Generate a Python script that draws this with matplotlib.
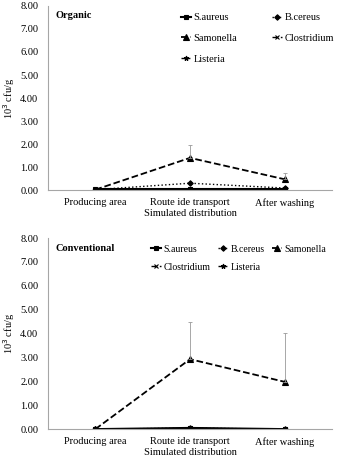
import numpy as np
import matplotlib
matplotlib.use("Agg")
import matplotlib.pyplot as plt

plt.rcParams['font.family'] = ['Liberation Serif', 'DejaVu Serif']

stages = ["Producing area", "Route ide transport\nSimulated distribution", "After washing"]
species = ["S.aureus", "B.cereus", "Samonella", "Clostridium", "Listeria"]

# Organic (10^3 cfu/g)
org_saureus = [0.03, 0.03, 0.03]
org_bcereus = [0.02, 0.30, 0.09]
org_samonella = [0.02, 1.40, 0.47]
org_clostridium = [0.02, 0.05, 0.05]
org_listeria = [0.01, 0.02, 0.02]
org_samonella_err = [0.0, 0.57, 0.27]

# Conventional (10^3 cfu/g)
con_saureus = [0.0, 0.05, 0.0]
con_bcereus = [0.0, 0.04, 0.0]
con_samonella = [0.0, 2.93, 1.98]
con_clostridium = [0.0, 0.03, 0.0]
con_listeria = [0.0, 0.02, 0.0]
con_samonella_err = [0.0, 1.55, 2.04]

styles = {
    "S.aureus": dict(ls='-', marker='s', lw=1.5, ms=3.2),
    "B.cereus": dict(ls=':', marker='D', lw=1.0, ms=2.8),
    "Samonella": dict(ls='--', marker='^', lw=1.3, ms=3.8),
    "Clostridium": dict(ls=(0, (4, 2)), marker='x', lw=1.0, ms=3.0),
    "Listeria": dict(ls='-.', marker='*', lw=1.0, ms=3.5),
}

fig = plt.figure(figsize=(3.43, 4.57), dpi=100)
ax1 = fig.add_axes([0.140, 0.584, 0.828, 0.403])
ax2 = fig.add_axes([0.140, 0.061, 0.828, 0.418])

# legend order so that entries read row by row
panels = [
    (ax1, "Organic", [org_saureus, org_bcereus, org_samonella, org_clostridium, org_listeria],
     org_samonella_err, 2, [0, 2, 4, 1, 3], (0.452, 0.985), 1.1, 3.3, 7.5),
    (ax2, "Conventional", [con_saureus, con_bcereus, con_samonella, con_clostridium, con_listeria],
     con_samonella_err, 3, [0, 3, 1, 4, 2], (0.35, 0.985), 0.9, 0.8, 7.0),
]

x = np.arange(len(stages))
for ax, title, series, err, ncol, order, anchor, labsp, colsp, lfs in panels:
    lines = []
    for name, vals in zip(species, series):
        st = styles[name]
        ln, = ax.plot(x, vals, color='black', label=name, linestyle=st['ls'], marker=st['marker'],
                      lw=st['lw'], ms=st['ms'], mew=0.8)
        lines.append(ln)
    sam = series[2]
    ax.errorbar(x, sam, yerr=[np.zeros(3), err], fmt='none', ecolor='#999999',
                elinewidth=0.6, capsize=1.5, capthick=0.6)
    ax.set_xlim(-0.5, 2.5)
    ax.set_ylim(0, 8)
    ax.set_yticks(np.arange(0, 8.01, 1))
    ax.set_yticklabels([f"{v:.2f}" for v in np.arange(0, 8.01, 1)])
    ax.set_xticks(x)
    ax.set_xticklabels(stages)
    ax.tick_params(axis='y', length=0, labelsize=7.5, pad=7)
    ax.tick_params(axis='x', length=0, labelsize=7.5, pad=6)
    for s in ['top', 'right']:
        ax.spines[s].set_visible(False)
    for s in ['left', 'bottom']:
        ax.spines[s].set_color('#a6a6a6')
        ax.spines[s].set_linewidth(0.8)
    ax.set_ylabel("10$^3$ cfu/g", fontsize=7.5, labelpad=2)
    ax.text(0.025, 0.97, title, transform=ax.transAxes, fontsize=7.5, fontweight='bold',
            va='top', ha='left')
    ax.legend([lines[i] for i in order], [species[i] for i in order],
              loc='upper left', bbox_to_anchor=anchor, ncol=ncol, frameon=False,
              fontsize=lfs, handlelength=1.0, handletextpad=0.25, columnspacing=colsp,
              labelspacing=labsp, borderaxespad=0)

fig.savefig("out.png", dpi=100)
